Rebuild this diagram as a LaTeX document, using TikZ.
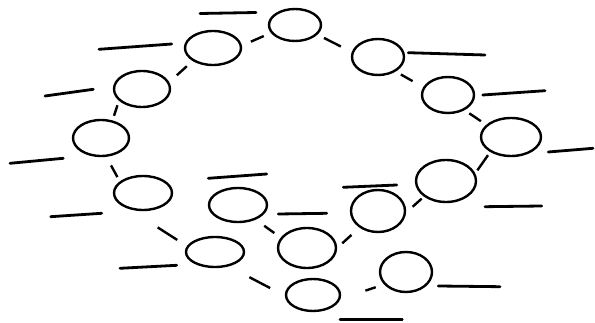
\documentclass[tikz,border=0pt]{standalone}
\usetikzlibrary{shapes.geometric}
\begin{document}
\begin{tikzpicture}[x=1pt,y=-1pt,
  bubble/.style 2 args={ellipse, draw, line width=2.4pt, inner sep=0pt, outer sep=0pt, minimum width=#1pt, minimum height=#2pt},
  conn/.style 2 args={line width=2.4pt, shorten <=#1pt, shorten >=#2pt},
  blank/.style={line width=2.8pt, line cap=round}]
\useasboundingbox (0,0) rectangle (595,323);
% bubbles
\node[bubble={52}{32}] (A) at (295,25) {};
\node[bubble={56}{34}] (B) at (213,48) {};
\node[bubble={56}{36}] (C) at (142,89) {};
\node[bubble={56}{36}] (D) at (101,138) {};
\node[bubble={58}{34}] (M) at (143,193) {};
\node[bubble={58}{30}] (N) at (215,252) {};
\node[bubble={54}{32}] (K) at (313,295) {};
\node[bubble={52}{40}] (L) at (406,272) {};
\node[bubble={52}{36}] (E) at (378,57) {};
\node[bubble={52}{36}] (F) at (448,95) {};
\node[bubble={60}{38}] (G) at (511,137) {};
\node[bubble={60}{42}] (H) at (446,181) {};
\node[bubble={54}{42}] (I) at (378,211) {};
\node[bubble={58}{40}] (J) at (307,248) {};
\node[bubble={58}{34}] (O) at (238,205) {};
% connectors
\draw[conn={9}{11}] (A.198) -- (B.4);
\draw[conn={9}{11.5}] (B.212) -- (C.13);
\draw[conn={6}{6}] (C.205) -- (D.56);
\draw[conn={11}{6}] (D.285) -- (M.155);
\draw[conn={40}{12.6}] (M.214) -- (N.169);
\draw[conn={25}{18}] (N.312) -- (K.183);
\draw[conn={28}{10}] (K.-10) -- (L.210);
\draw[conn={8.5}{13.4}] (A.337) -- (E.170);
\draw[conn={7.3}{13.3}] (E.320) -- (F.163);
\draw[conn={7}{7.6}] (F.317) -- (G.154);
\draw[conn={5}{5}] (G.215) -- (H.13);
\draw[conn={4.2}{10.5}] (H.215) -- (I.354);
\draw[conn={12}{8.5}] (I.222) -- (J.358);
\draw[conn={11.8}{9}] (O.320) -- (J.159);
% label strokes
\draw[blank] (200,13.5) -- (256,12.5);
\draw[blank] (99,49.3) -- (171.7,44);
\draw[blank] (45,96) -- (93.3,89.3);
\draw[blank] (10,163.3) -- (63.3,158.3);
\draw[blank] (408.3,52.7) -- (485,55);
\draw[blank] (482.7,95) -- (545,90.7);
\draw[blank] (548.3,152) -- (593,148.3);
\draw[blank] (485,206.7) -- (541.7,206);
\draw[blank] (343.3,187.3) -- (396.7,185);
\draw[blank] (278.3,214) -- (326.7,213.3);
\draw[blank] (340,319.3) -- (402.3,319.3);
\draw[blank] (438.3,286) -- (500,286.7);
\draw[blank] (50.7,216.7) -- (101.7,213.3);
\draw[blank] (120,268.3) -- (176.7,265.3);
\draw[blank] (208.3,178.3) -- (266.7,174);
\end{tikzpicture}
\end{document}
